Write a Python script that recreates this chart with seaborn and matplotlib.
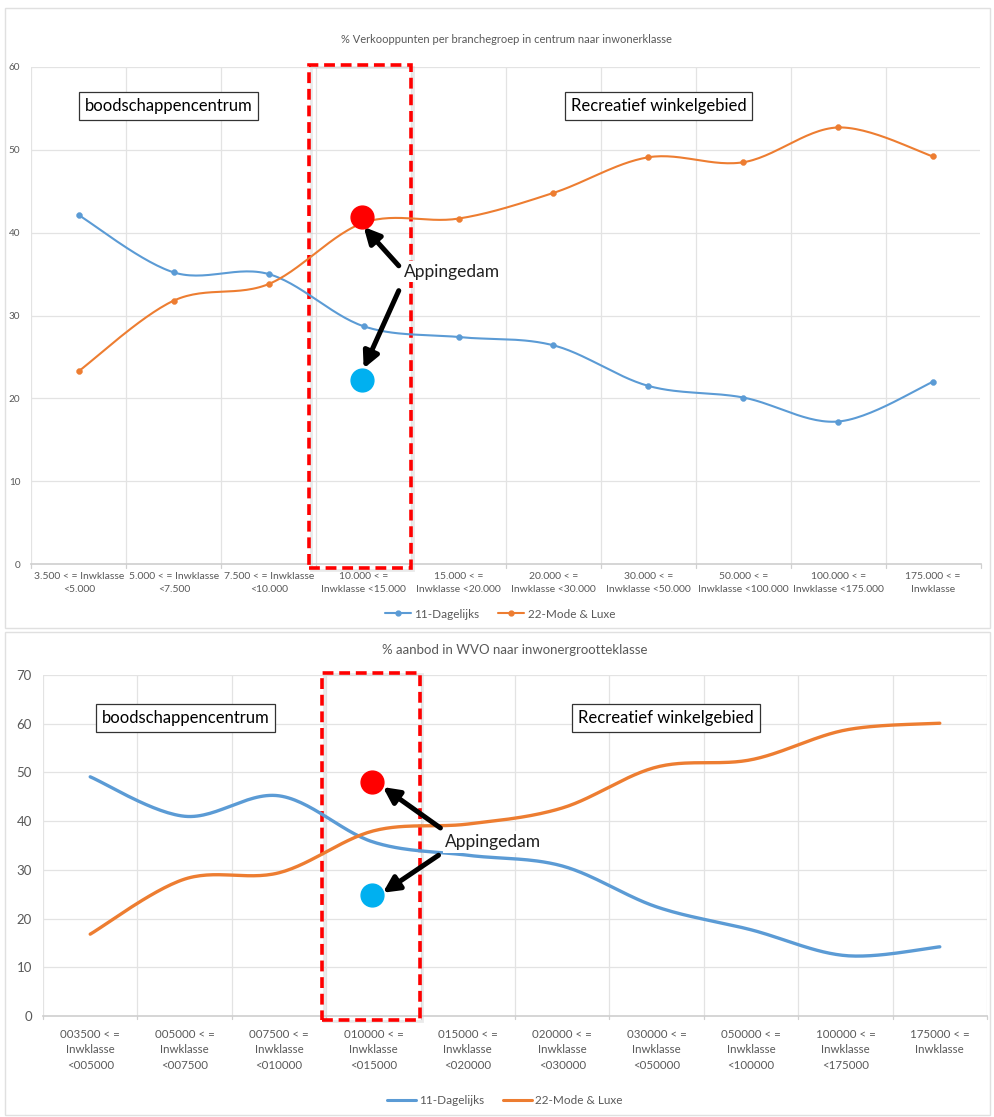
import numpy as np
import pandas as pd
import matplotlib
matplotlib.use("Agg")
import matplotlib.pyplot as plt
import seaborn as sns
from matplotlib.patches import Rectangle
from matplotlib.lines import Line2D

# ---------------- data ----------------
top_title = "% Verkooppunten per branchegroep in centrum naar inwonerklasse"
top_labels = ["3.500 < = Inwklasse\n<5.000", "5.000 < = Inwklasse\n<7.500", "7.500 < = Inwklasse\n<10.000",
              "10.000 < =\nInwklasse <15.000", "15.000 < =\nInwklasse <20.000", "20.000 < =\nInwklasse <30.000",
              "30.000 < =\nInwklasse <50.000", "50.000 < =\nInwklasse <100.000", "100.000 < =\nInwklasse <175.000",
              "175.000 < =\nInwklasse"]
top_dagelijks = [42.1, 35.2, 35.0, 28.7, 27.4, 26.4, 21.5, 20.1, 17.2, 22.0]
top_mode = [23.3, 31.8, 33.8, 41.2, 41.7, 44.8, 49.1, 48.5, 52.7, 49.2]
top_app_mode = 41.9
top_app_dag = 22.2

bot_title = "% aanbod in WVO naar inwonergrootteklasse"
bot_labels = ["003500 < =\nInwklasse\n<005000", "005000 < =\nInwklasse\n<007500", "007500 < =\nInwklasse\n<010000",
              "010000 < =\nInwklasse\n<015000", "015000 < =\nInwklasse\n<020000", "020000 < =\nInwklasse\n<030000",
              "030000 < =\nInwklasse\n<050000", "050000 < =\nInwklasse\n<100000", "100000 < =\nInwklasse\n<175000",
              "175000 < =\nInwklasse"]
bot_dagelijks = [49.1, 41.0, 45.2, 35.7, 33.0, 30.8, 22.4, 17.7, 12.4, 14.2]
bot_mode = [16.8, 28.1, 29.4, 38.0, 39.4, 42.7, 51.1, 52.6, 58.7, 60.1]
bot_app_mode = 48.0
bot_app_dag = 24.8

series_names = ["11-Dagelijks", "22-Mode & Luxe"]
c_blue = "#5B9BD5"
c_orange = "#ED7D31"
c_red = "#FF0000"
c_cyan = "#00B0F0"
txt_gray = "#595959"

sns.set_theme(style="white")
plt.rcParams['font.family'] = ['Lato', 'DejaVu Sans']


def smooth(y, n=30):
    """Excel-like smoothed line (Catmull-Rom Bezier) through the points."""
    y = np.asarray(y, float)
    x = np.arange(len(y), dtype=float)
    P = np.column_stack([x, y])
    out = []
    for i in range(len(P) - 1):
        p0 = P[max(i - 1, 0)]
        p1 = P[i]
        p2 = P[i + 1]
        p3 = P[min(i + 2, len(P) - 1)]
        c1 = p1 + (p2 - p0) / 6.0
        c2 = p2 - (p3 - p1) / 6.0
        t = np.linspace(0, 1, n, endpoint=(i == len(P) - 2))[:, None]
        seg = ((1 - t) ** 3) * p1 + 3 * ((1 - t) ** 2) * t * c1 + 3 * (1 - t) * t ** 2 * c2 + t ** 3 * p2
        out.append(seg)
    out = np.vstack(out)
    return pd.DataFrame({"x": out[:, 0], "y": out[:, 1]})


W, H = 995, 1117
fig = plt.figure(figsize=(W / 100, H / 100), dpi=100)

# chart frames
fig.patches.append(Rectangle((5 / W, 1 - 628 / H), 985 / W, 620 / H, transform=fig.transFigure,
                             fill=False, edgecolor="#e0e0e0", lw=1))
fig.patches.append(Rectangle((5 / W, 0.002), 985 / W, 1 - 632 / H - 0.002, transform=fig.transFigure,
                             fill=False, edgecolor="#e0e0e0", lw=1))


def style_axes(ax, labels, ymax, ystep, lblsize, ytsize, pad):
    n = len(labels)
    ax.set_xlim(-0.5, n - 0.5)
    ax.set_ylim(0, ymax)
    ax.set_yticks(np.arange(0, ymax + 1, ystep))
    ax.set_xticks(range(n))
    ax.set_xticklabels(labels, fontsize=lblsize, color=txt_gray, linespacing=1.55)
    ax.tick_params(axis="y", labelsize=ytsize, colors=txt_gray, length=0, pad=8)
    ax.tick_params(axis="x", length=0, pad=pad)
    for s in ["top", "right", "left"]:
        ax.spines[s].set_visible(False)
    ax.spines["bottom"].set_color("#d0d0d0")
    for yv in np.arange(ystep, ymax + 1, ystep):
        ax.axhline(yv, color="#e3e3e3", lw=0.9, zorder=0)
    for b in np.arange(-0.5, n, 1.0):
        ax.axvline(b, color="#e3e3e3", lw=0.9, zorder=0)
        ax.plot([b, b], [0, -ymax * 0.008], color="#d0d0d0", lw=0.9, clip_on=False)
    ax.set_xlabel("")
    ax.set_ylabel("")


def box(ax, x, y, text, size):
    ax.text(x, y, text, fontsize=size, color="black", ha="left", va="center",
            transform=ax.transData,
            bbox=dict(boxstyle="square,pad=0.35", fc="white", ec="#333333", lw=0.9), zorder=6)


def dashed_rect(ax, x0, y0, x1, y1):
    ax.add_patch(Rectangle((x0 + 0.02, y0 - (y1 - y0) * 0.004), x1 - x0, y1 - y0, fill=False,
                           edgecolor="#cccccc", lw=2, clip_on=False, zorder=3, alpha=0.4))
    ax.add_patch(Rectangle((x0, y0), x1 - x0, y1 - y0, fill=False, edgecolor=c_red, lw=2.6,
                           linestyle=(0, (3, 1.6)), clip_on=False, zorder=4))


def arrows(ax, text_xy, starts, ends, size):
    for s, e in zip(starts, ends):
        ax.annotate("", xy=e, xytext=s,
                    arrowprops=dict(arrowstyle="-|>", lw=3.6, color="black", mutation_scale=24,
                                    shrinkA=0, shrinkB=0), zorder=7)
    ax.text(text_xy[0], text_xy[1], "Appingedam", fontsize=size, color="#222222", ha="left", va="center",
            bbox=dict(boxstyle="square,pad=0.15", fc="white", ec="none"), zorder=6)


# ---------------- top chart ----------------
ax1 = fig.add_axes([31.5 / W, 1 - 564 / H, 949 / W, 497 / H])
style_axes(ax1, top_labels, 60, 10, 7.5, 7.2, 6)
for vals, col in [(top_dagelijks, c_blue), (top_mode, c_orange)]:
    d = smooth(vals)
    sns.lineplot(data=d, x="x", y="y", ax=ax1, color=col, lw=1.5, sort=False, zorder=5)
    sns.scatterplot(x=np.arange(len(vals)), y=vals, ax=ax1, color=col, s=18, edgecolor=col, zorder=5)
ax1.set_xlabel(""); ax1.set_ylabel("")
ax1.set_title(top_title, fontsize=8, color=txt_gray, pad=17)
dashed_rect(ax1, 2.42, -0.5, 3.5, 60.3)
box(ax1, 0.06, 55.3, "boodschappencentrum", 12)
box(ax1, 5.18, 55.3, "Recreatief winkelgebied", 12)
ax1.scatter([2.98], [top_app_mode], s=270, color=c_red, zorder=8, marker="o")
ax1.scatter([2.98], [top_app_dag], s=270, color=c_cyan, zorder=8, marker="o")
arrows(ax1, (3.42, 35.3), [(3.37, 36.0), (3.37, 33.0)], [(3.0, 40.7), (3.0, 23.6)], 12.5)
h1 = [Line2D([], [], color=c_blue, lw=1.5, marker="o", ms=3.5),
      Line2D([], [], color=c_orange, lw=1.5, marker="o", ms=3.5)]
fig.legend(h1, series_names, loc="center", bbox_to_anchor=(500 / W, 1 - 614 / H), ncol=2, frameon=False,
           fontsize=8.5, handlelength=2.2, columnspacing=1.6, handletextpad=0.3, labelcolor=txt_gray)

# ---------------- bottom chart ----------------
ax2 = fig.add_axes([43 / W, 1 - 1016 / H, 944 / W, 341 / H])
style_axes(ax2, bot_labels, 70, 10, 8.3, 9.5, 9)
for vals, col in [(bot_dagelijks, c_blue), (bot_mode, c_orange)]:
    d = smooth(vals)
    sns.lineplot(data=d, x="x", y="y", ax=ax2, color=col, lw=2.4, sort=False, zorder=5)
ax2.set_xlabel(""); ax2.set_ylabel("")
ax2.set_title(bot_title, fontsize=9.5, color=txt_gray, pad=15)
dashed_rect(ax2, 2.455, -0.8, 3.49, 70.4)
box(ax2, 0.12, 61.2, "boodschappencentrum", 12)
box(ax2, 5.17, 61.2, "Recreatief winkelgebied", 12)
ax2.scatter([2.98], [bot_app_mode], s=270, color=c_red, zorder=8)
ax2.scatter([2.98], [bot_app_dag], s=270, color=c_cyan, zorder=8)
arrows(ax2, (3.76, 35.7), [(3.71, 38.6), (3.69, 33.0)], [(3.1, 47.0), (3.1, 25.3)], 12.5)
h2 = [Line2D([], [], color=c_blue, lw=2.2), Line2D([], [], color=c_orange, lw=2.2)]
fig.legend(h2, series_names, loc="center", bbox_to_anchor=(505 / W, 1 - 1101 / H), ncol=2, frameon=False,
           fontsize=8.5, handlelength=2.4, columnspacing=1.6, handletextpad=0.3, labelcolor=txt_gray)

fig.savefig("out.png", dpi=100)
